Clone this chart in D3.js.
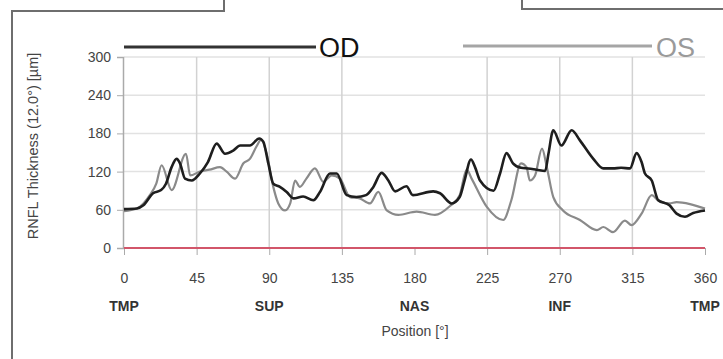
<!DOCTYPE html>
<html>
<head>
<meta charset="utf-8">
<script src="https://cdn.jsdelivr.net/npm/d3@7"></script>
<style>
  body { margin: 0; background: #fff; }
  svg { display: block; font-family: "Liberation Sans", Arial, sans-serif; }
</style>
</head>
<body>
<script>
// thickness profiles: [position deg, thickness um]
const odPos = [0, 8, 12, 18, 23, 26, 29.5, 32.6, 34.7, 37.8, 42, 47, 52, 57.4, 62.6, 67.7, 72, 78, 83.8, 86.3, 89.4, 92.5, 96.6, 100.8, 105, 111, 117.3, 121.4, 127.6, 131.8, 138, 144, 150, 154.5, 159.6, 163.8, 168, 175, 179, 191.6, 195.8, 203, 208, 211, 215, 217.5, 220.6, 229, 233, 237, 241, 246, 250.5, 255.7, 261, 263, 266, 271, 277.4, 282.5, 290.8, 297, 303, 308, 313.5, 317.6, 320.7, 322.8, 327, 331, 338, 342.4, 347.6, 352.7, 360];
const odVal = [61, 62, 67, 86, 91, 101, 127, 140, 133, 109, 106, 117, 135, 164, 148, 153, 161, 161, 172, 167, 133, 101, 96, 88, 78, 81, 75, 88, 117, 117, 83, 80, 83, 96, 118, 106, 89, 97, 83, 89, 86, 70, 80, 106, 139, 127, 106, 90, 117, 149, 133, 126, 125, 123, 121, 148, 185, 161, 185, 169, 140, 125, 125, 126, 125, 149, 135, 117, 106, 75, 67, 54, 49, 55, 59];
const osPos = [0, 8, 16, 20, 23.3, 29.5, 38.4, 41, 47, 53, 59.5, 63.6, 68.8, 74, 78, 82, 85, 88.4, 92.5, 95.6, 99.8, 103, 106, 109, 113, 118.3, 123.5, 128.7, 133.8, 140, 146, 152.4, 157.6, 162.8, 170, 181.3, 192.7, 202, 208, 212.3, 215.4, 224.7, 235, 240, 246, 249.4, 251.5, 254.7, 259, 262, 266, 272, 282.5, 293, 297, 303, 310.4, 314.5, 320.7, 327, 331, 338, 342.4, 350.7, 360];
const osVal = [58, 62, 83, 101, 130, 91, 148, 114, 120, 123, 127, 120, 109, 133, 140, 159, 170, 148, 96, 70, 59, 70, 106, 96, 109, 125, 104, 114, 109, 80, 78, 70, 88, 59, 52, 57, 52, 66, 83, 123, 109, 65, 44, 75, 133, 127, 106, 114, 156, 127, 80, 59, 44, 28, 33, 25, 43, 36, 54, 83, 75, 70, 72, 69, 62];

const xTicks = [0, 45, 90, 135, 180, 225, 270, 315, 360];
const xGrid = [45, 90, 135, 225, 270, 315];
const yTicks = [0, 60, 120, 180, 240, 300];
const sectors = [[0, "TMP"], [90, "SUP"], [180, "NAS"], [270, "INF"], [360, "TMP"]];

const W = 723, H = 359;
const svg = d3.select("body").append("svg").attr("width", W).attr("height", H);

// panel frame pieces
svg.append("path")
  .attr("d", "M12,359 L12,11 L224,11 L224,0 M522,0 L522,9 L723,9")
  .attr("fill", "none").attr("stroke", "#6e6e6e").attr("stroke-width", 2);

const x = d3.scaleLinear().domain([0, 360]).range([124, 705]);
const y = d3.scaleLinear().domain([0, 300]).range([248, 57]);

// gridlines
svg.append("g").selectAll("line").data(yTicks.filter(d => d > 0)).join("line")
  .attr("x1", x(0)).attr("x2", x(360))
  .attr("y1", d => y(d)).attr("y2", d => y(d))
  .attr("stroke", "#e2e2e2").attr("stroke-width", 1.5);
svg.append("g").selectAll("line").data(xGrid).join("line")
  .attr("x1", d => x(d)).attr("x2", d => x(d))
  .attr("y1", y(300)).attr("y2", y(0))
  .attr("stroke", "#d2d2d2").attr("stroke-width", 1.5);

// y axis
const yAxis = svg.append("g").attr("transform", `translate(${x(0) - 1},0)`)
  .call(d3.axisLeft(y).tickValues(yTicks).tickSize(6).tickPadding(6));
yAxis.select(".domain").attr("stroke", "#aaa").attr("stroke-width", 1.5);
yAxis.selectAll(".tick line").attr("stroke", "#aaa");
yAxis.selectAll("text").attr("font-size", 14).attr("fill", "#444")
  .attr("font-family", "Liberation Sans, Arial, sans-serif");

// x axis
const xAxis = svg.append("g").attr("transform", `translate(0,${y(0)})`)
  .call(d3.axisBottom(x).tickValues(xTicks).tickSize(7).tickPadding(18));
xAxis.select(".domain").remove();
xAxis.selectAll(".tick line").attr("stroke", "#aaa");
xAxis.selectAll("text").attr("font-size", 14).attr("fill", "#444")
  .attr("font-family", "Liberation Sans, Arial, sans-serif");

// zero baseline
svg.append("line")
  .attr("x1", x(0)).attr("x2", x(360)).attr("y1", y(0)).attr("y2", y(0))
  .attr("stroke", "#d2566a").attr("stroke-width", 2);

svg.append("g").selectAll("text").data(sectors).join("text")
  .attr("x", d => x(d[0])).attr("y", 311)
  .attr("text-anchor", "middle").attr("font-size", 14).attr("font-weight", "bold")
  .attr("fill", "#333").text(d => d[1]);

svg.append("text").attr("x", 415).attr("y", 336).attr("text-anchor", "middle")
  .attr("font-size", 14).attr("fill", "#444").text("Position [°]");

svg.append("text").attr("transform", "translate(38,146) rotate(-90)")
  .attr("text-anchor", "middle").attr("font-size", 14.5).attr("fill", "#444")
  .text("RNFL Thickness (12.0°) [µm]");

// curves
const line = d3.line().x(d => x(d[0])).y(d => y(d[1])).curve(d3.curveMonotoneX);
svg.append("path").datum(d3.zip(osPos, osVal)).attr("d", line)
  .attr("fill", "none").attr("stroke", "#8a8a8a").attr("stroke-width", 2.2)
  .attr("stroke-linejoin", "round");
svg.append("path").datum(d3.zip(odPos, odVal)).attr("d", line)
  .attr("fill", "none").attr("stroke", "#1e1e1e").attr("stroke-width", 2.6)
  .attr("stroke-linejoin", "round");

// legend
svg.append("line").attr("x1", 124).attr("x2", 316).attr("y1", 47).attr("y2", 47)
  .attr("stroke", "#333").attr("stroke-width", 3);
svg.append("text").attr("x", 319).attr("y", 57).attr("font-size", 27)
  .attr("fill", "#111").text("OD");
svg.append("line").attr("x1", 463).attr("x2", 652).attr("y1", 46).attr("y2", 46)
  .attr("stroke", "#a5a5a5").attr("stroke-width", 3);
svg.append("text").attr("x", 656).attr("y", 57).attr("font-size", 27)
  .attr("fill", "#9a9a9a").text("OS");
</script>
</body>
</html>
